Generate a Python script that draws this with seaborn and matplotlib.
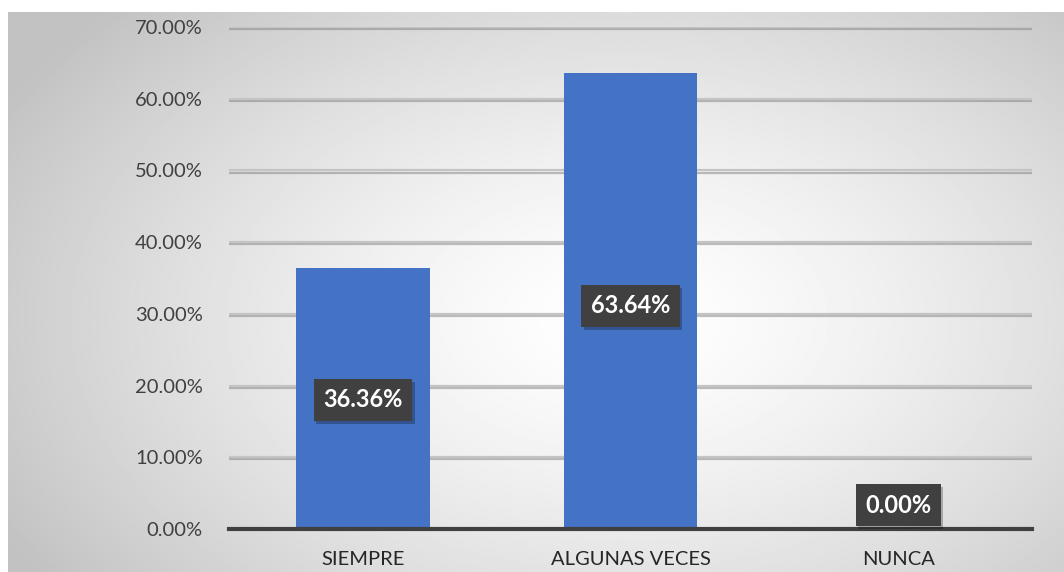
import matplotlib
matplotlib.use("Agg")
import matplotlib.pyplot as plt
import matplotlib.patheffects as pe
from matplotlib.ticker import FuncFormatter, FixedLocator
import seaborn as sns
import pandas as pd
import numpy as np

categorias = ["SIEMPRE", "ALGUNAS VECES", "NUNCA"]
valores = [0.3636, 0.6364, 0.0]
etiquetas = ["36.36%", "63.64%", "0.00%"]

df = pd.DataFrame({"categoria": categorias, "valor": valores})

sns.set_style("white")
plt.rcParams["font.family"] = ["Lato", "DejaVu Sans"]

fig = plt.figure(figsize=(10.64, 5.72), dpi=100)

# fondo con degradado radial
bg = fig.add_axes([8 / 1064, 0, 1 - 8 / 1064, (572 - 12) / 572], zorder=0)
yy, xx = np.mgrid[0:1:300j, 0:1:600j]
r = np.sqrt(((xx - 0.58) / 0.75) ** 2 + ((yy - 0.55) / 0.9) ** 2)
g = np.clip(1.0 - 0.28 * r ** 1.4, 0.76, 1.0)
bg.imshow(g, cmap="gray", vmin=0, vmax=1, aspect="auto", extent=[0, 1, 0, 1])
bg.set_axis_off()

ax = fig.add_axes([229 / 1064, 43 / 572, (1032 - 229) / 1064, (529 - 27) / 572], zorder=1)
ax.patch.set_alpha(0)

sns.barplot(data=df, x="categoria", y="valor", color="#4472C4", width=0.5,
            saturation=1, linewidth=0, ax=ax, zorder=3)

ax.set_ylim(0, 0.7)
ax.set_xlim(-0.5, 2.5)
ax.yaxis.set_major_locator(FixedLocator(np.arange(0, 0.71, 0.1)))
ax.yaxis.set_major_formatter(FuncFormatter(lambda v, p: f"{v * 100:.2f}%"))

sombra = [pe.SimpleLineShadow(offset=(0, -1.5), shadow_color="#7f7f7f", alpha=0.5), pe.Normal()]
for v in np.arange(0.1, 0.71, 0.1):
    ax.axhline(v, color="#c4c4c4", lw=1.6, zorder=1, path_effects=sombra)

for s in ["top", "right", "left"]:
    ax.spines[s].set_visible(False)
ax.spines["bottom"].set_color("#404040")
ax.spines["bottom"].set_linewidth(3)
ax.spines["bottom"].set_zorder(4)

ax.tick_params(axis="y", length=0, labelsize=14.5, labelcolor="#404040", pad=19)
ax.tick_params(axis="x", which="major", length=0, labelsize=14.5, labelcolor="#262626", pad=16)
ax.set_xticks([-0.5, 0.5, 1.5, 2.5], minor=True)
ax.tick_params(axis="x", which="minor", length=6, width=3, color="#404040", direction="out")
ax.set_xlabel("")
ax.set_ylabel("")

posiciones = [0.18, 0.311, 0.033]
for i, (txt, y) in enumerate(zip(etiquetas, posiciones)):
    t = ax.text(i, y, txt, ha="center", va="center", color="white", fontsize=17,
                fontweight="bold", zorder=6,
                bbox=dict(boxstyle="square,pad=0.4", facecolor="#404040", edgecolor="none"))
    t.get_bbox_patch().set_path_effects([pe.SimplePatchShadow(offset=(2, -2), shadow_rgbFace="#000000", alpha=0.25), pe.Normal()])

fig.savefig("out.png", dpi=100)
